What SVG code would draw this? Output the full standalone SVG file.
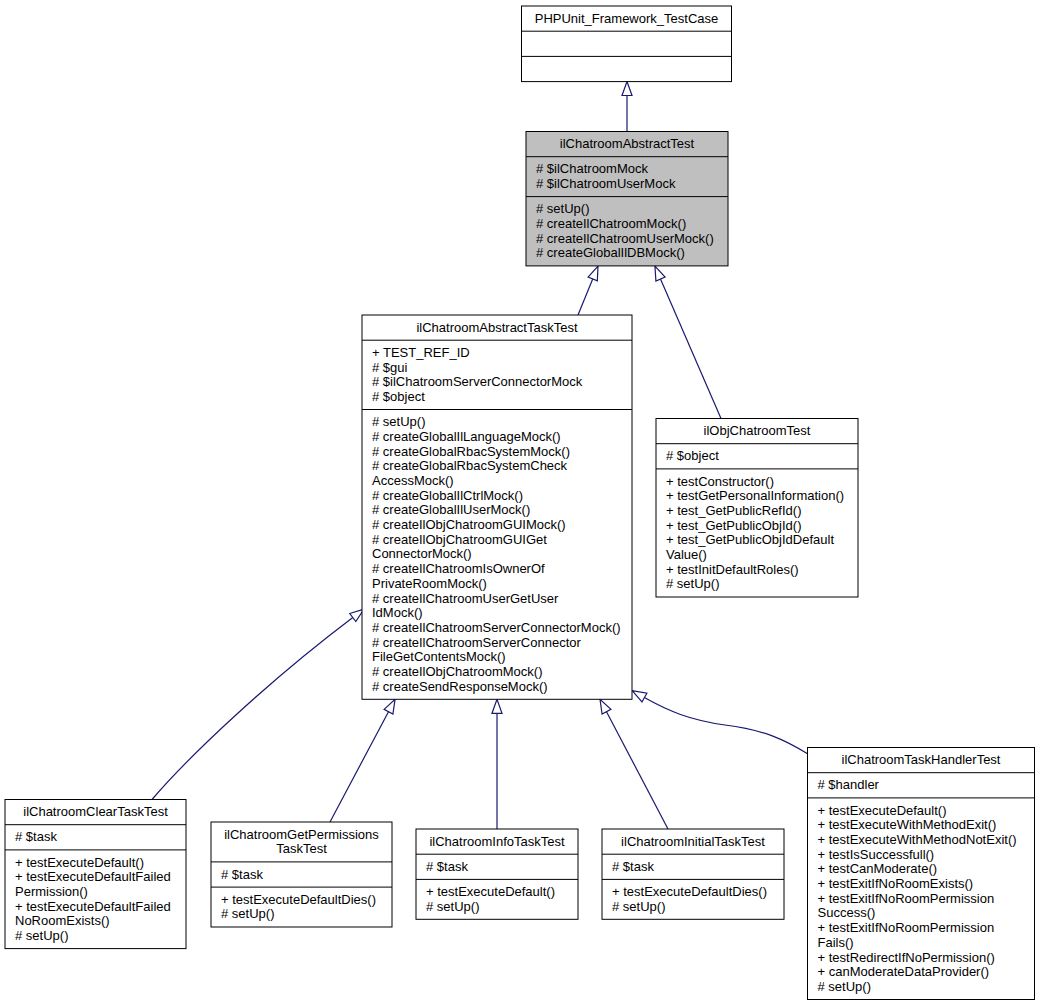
<svg xmlns="http://www.w3.org/2000/svg" width="1040" height="1007" viewBox="0 0 1040 1007">
<style>
  .box { fill: #ffffff; stroke: #000000; stroke-width: 1; }
  .gray { fill: #bfbfbf; }
  .sep { stroke: #000000; stroke-width: 1; }
  text { font-family: "Liberation Sans", Arial, sans-serif; font-size: 13px; fill: #000000; }
  .c { text-anchor: middle; }
  .edge { fill: none; stroke: #191970; stroke-width: 1.2; marker-end: url(#tri); }
</style>
<defs>
  <marker id="tri" markerUnits="userSpaceOnUse" markerWidth="18" markerHeight="14" refX="1" refY="7" orient="auto" viewBox="0 0 18 14">
    <path d="M1,2 L15,7 L1,12 Z" fill="#ffffff" stroke="#191970" stroke-width="1.2"/>
  </marker>
</defs>
<rect width="1040" height="1007" fill="#ffffff"/>

<g id="edges">
  <path class="edge" d="M627,131.5 L627,95.5"/>
  <path class="edge" d="M578,315 L592.7,279"/>
  <path class="edge" d="M721,418.5 L660.5,279"/>
  <path class="edge" d="M152,799.5 C190,755 270,680 352.8,617.5"/>
  <path class="edge" d="M330,822 L388.5,711.7"/>
  <path class="edge" d="M497,829 L497,713.3"/>
  <path class="edge" d="M668,829 L606.5,711.7"/>
  <path class="edge" d="M808,754 C785,740 765,730 725,725 C690,720 668,711 644.4,697.6"/>
</g>

<g id="PHPUnit_Framework_TestCase">
  <rect class="box" x="521.5" y="6" width="210" height="75.6"/>
  <line class="sep" x1="521.5" y1="31.2" x2="731.5" y2="31.2"/>
  <line class="sep" x1="521.5" y1="56.4" x2="731.5" y2="56.4"/>
  <text class="c" x="626.5" y="22.6">PHPUnit_Framework_TestCase</text>
</g>

<g id="ilChatroomAbstractTest">
  <rect class="box gray" x="526" y="131.5" width="202" height="134.4"/>
  <line class="sep" x1="526" y1="156.7" x2="728" y2="156.7"/>
  <line class="sep" x1="526" y1="196.6" x2="728" y2="196.6"/>
  <text class="c" x="627" y="148.1">ilChatroomAbstractTest</text>
  <text x="536" y="173.3"># $ilChatroomMock</text>
  <text x="536" y="188.0"># $ilChatroomUserMock</text>
  <text x="536" y="213.2"># setUp()</text>
  <text x="536" y="227.9"># createIlChatroomMock()</text>
  <text x="536" y="242.6"># createIlChatroomUserMock()</text>
  <text x="536" y="257.3"># createGlobalIlDBMock()</text>
</g>

<g id="ilChatroomAbstractTaskTest">
  <rect class="box" x="362" y="315" width="270" height="384.3"/>
  <line class="sep" x1="362" y1="340.2" x2="632" y2="340.2"/>
  <line class="sep" x1="362" y1="409.5" x2="632" y2="409.5"/>
  <text class="c" x="497" y="331.6">ilChatroomAbstractTaskTest</text>
  <text x="372" y="356.8">+ TEST_REF_ID</text>
  <text x="372" y="371.5"># $gui</text>
  <text x="372" y="386.2"># $ilChatroomServerConnectorMock</text>
  <text x="372" y="400.9"># $object</text>
  <text x="372" y="426.1"># setUp()</text>
  <text x="372" y="440.8"># createGlobalIlLanguageMock()</text>
  <text x="372" y="455.5"># createGlobalRbacSystemMock()</text>
  <text x="372" y="470.2"># createGlobalRbacSystemCheck</text>
  <text x="372" y="484.9">AccessMock()</text>
  <text x="372" y="499.6"># createGlobalIlCtrlMock()</text>
  <text x="372" y="514.3"># createGlobalIlUserMock()</text>
  <text x="372" y="529.0"># createIlObjChatroomGUIMock()</text>
  <text x="372" y="543.7"># createIlObjChatroomGUIGet</text>
  <text x="372" y="558.4">ConnectorMock()</text>
  <text x="372" y="573.1"># createIlChatroomIsOwnerOf</text>
  <text x="372" y="587.8">PrivateRoomMock()</text>
  <text x="372" y="602.5"># createIlChatroomUserGetUser</text>
  <text x="372" y="617.2">IdMock()</text>
  <text x="372" y="631.9"># createIlChatroomServerConnectorMock()</text>
  <text x="372" y="646.6"># createIlChatroomServerConnector</text>
  <text x="372" y="661.3">FileGetContentsMock()</text>
  <text x="372" y="676.0"># createIlObjChatroomMock()</text>
  <text x="372" y="690.7"># createSendResponseMock()</text>
</g>

<g id="ilObjChatroomTest">
  <rect class="box" x="656" y="418.5" width="202" height="178.5"/>
  <line class="sep" x1="656" y1="443.7" x2="858" y2="443.7"/>
  <line class="sep" x1="656" y1="468.9" x2="858" y2="468.9"/>
  <text class="c" x="757" y="435.1">ilObjChatroomTest</text>
  <text x="666" y="460.3"># $object</text>
  <text x="666" y="485.5">+ testConstructor()</text>
  <text x="666" y="500.2">+ testGetPersonalInformation()</text>
  <text x="666" y="514.9">+ test_GetPublicRefId()</text>
  <text x="666" y="529.6">+ test_GetPublicObjId()</text>
  <text x="666" y="544.3">+ test_GetPublicObjIdDefault</text>
  <text x="666" y="559.0">Value()</text>
  <text x="666" y="573.7">+ testInitDefaultRoles()</text>
  <text x="666" y="588.4"># setUp()</text>
</g>

<g id="ilChatroomClearTaskTest">
  <rect class="box" x="5" y="799.5" width="181" height="149.1"/>
  <line class="sep" x1="5" y1="824.7" x2="186" y2="824.7"/>
  <line class="sep" x1="5" y1="849.9" x2="186" y2="849.9"/>
  <text class="c" x="95.5" y="816.1">ilChatroomClearTaskTest</text>
  <text x="15" y="841.3"># $task</text>
  <text x="15" y="866.5">+ testExecuteDefault()</text>
  <text x="15" y="881.2">+ testExecuteDefaultFailed</text>
  <text x="15" y="895.9">Permission()</text>
  <text x="15" y="910.6">+ testExecuteDefaultFailed</text>
  <text x="15" y="925.3">NoRoomExists()</text>
  <text x="15" y="940.0"># setUp()</text>
</g>

<g id="ilChatroomGetPermissionsTaskTest">
  <rect class="box" x="211" y="822" width="181" height="105"/>
  <line class="sep" x1="211" y1="861.9" x2="392" y2="861.9"/>
  <line class="sep" x1="211" y1="887.1" x2="392" y2="887.1"/>
  <text class="c" x="301.5" y="838.6">ilChatroomGetPermissions</text>
  <text class="c" x="301.5" y="853.3">TaskTest</text>
  <text x="221" y="878.5"># $task</text>
  <text x="221" y="903.7">+ testExecuteDefaultDies()</text>
  <text x="221" y="918.4"># setUp()</text>
</g>

<g id="ilChatroomInfoTaskTest">
  <rect class="box" x="416" y="829" width="162" height="90.3"/>
  <line class="sep" x1="416" y1="854.2" x2="578" y2="854.2"/>
  <line class="sep" x1="416" y1="879.4" x2="578" y2="879.4"/>
  <text class="c" x="497" y="845.6">ilChatroomInfoTaskTest</text>
  <text x="426" y="870.8"># $task</text>
  <text x="426" y="896.0">+ testExecuteDefault()</text>
  <text x="426" y="910.7"># setUp()</text>
</g>

<g id="ilChatroomInitialTaskTest">
  <rect class="box" x="602" y="829" width="182" height="90.3"/>
  <line class="sep" x1="602" y1="854.2" x2="784" y2="854.2"/>
  <line class="sep" x1="602" y1="879.4" x2="784" y2="879.4"/>
  <text class="c" x="693" y="845.6">ilChatroomInitialTaskTest</text>
  <text x="612" y="870.8"># $task</text>
  <text x="612" y="896.0">+ testExecuteDefaultDies()</text>
  <text x="612" y="910.7"># setUp()</text>
</g>

<g id="ilChatroomTaskHandlerTest">
  <rect class="box" x="807.5" y="747.5" width="227" height="252"/>
  <line class="sep" x1="807.5" y1="772.7" x2="1034.5" y2="772.7"/>
  <line class="sep" x1="807.5" y1="797.9" x2="1034.5" y2="797.9"/>
  <text class="c" x="921" y="764.1">ilChatroomTaskHandlerTest</text>
  <text x="817.5" y="789.3"># $handler</text>
  <text x="817.5" y="814.5">+ testExecuteDefault()</text>
  <text x="817.5" y="829.2">+ testExecuteWithMethodExit()</text>
  <text x="817.5" y="843.9">+ testExecuteWithMethodNotExit()</text>
  <text x="817.5" y="858.6">+ testIsSuccessfull()</text>
  <text x="817.5" y="873.3">+ testCanModerate()</text>
  <text x="817.5" y="888.0">+ testExitIfNoRoomExists()</text>
  <text x="817.5" y="902.7">+ testExitIfNoRoomPermission</text>
  <text x="817.5" y="917.4">Success()</text>
  <text x="817.5" y="932.1">+ testExitIfNoRoomPermission</text>
  <text x="817.5" y="946.8">Fails()</text>
  <text x="817.5" y="961.5">+ testRedirectIfNoPermission()</text>
  <text x="817.5" y="976.2">+ canModerateDataProvider()</text>
  <text x="817.5" y="990.9"># setUp()</text>
</g>
</svg>
